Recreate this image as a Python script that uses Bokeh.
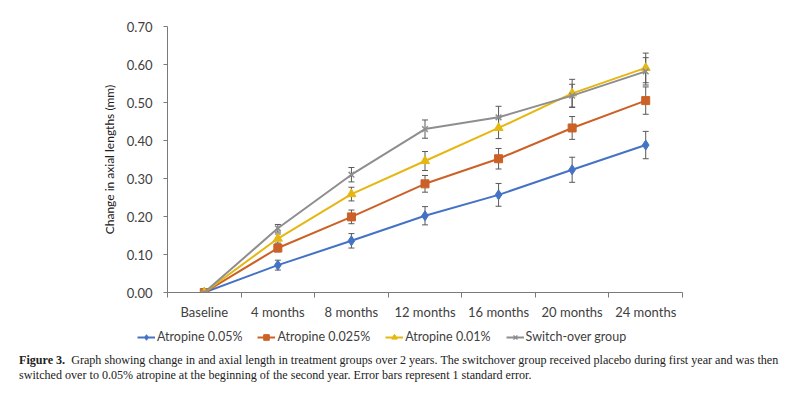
import numpy as np
from bokeh.plotting import figure
from bokeh.models import (Range1d, FixedTicker, NumeralTickFormatter, Whisker, TeeHead,
                          ColumnDataSource, Legend, LegendItem, Div)
from bokeh.layouts import column
from bokeh.embed import file_html
from bokeh.resources import INLINE

categories = ["Baseline", "4 months", "8 months", "12 months", "16 months", "20 months", "24 months"]
y_ticks = [0.0, 0.1, 0.2, 0.3, 0.4, 0.5, 0.6, 0.7]

series_names = ["Atropine 0.05%", "Atropine 0.025%", "Atropine 0.01%", "Switch-over group"]
atropine_005 = [0.0, 0.072, 0.136, 0.202, 0.257, 0.323, 0.388]
atropine_005_se = [0.003, 0.013, 0.019, 0.024, 0.030, 0.033, 0.036]
atropine_0025 = [0.0, 0.117, 0.199, 0.286, 0.352, 0.433, 0.505]
atropine_0025_se = [0.003, 0.010, 0.018, 0.022, 0.027, 0.030, 0.036]
atropine_001 = [0.0, 0.142, 0.259, 0.346, 0.433, 0.524, 0.591]
atropine_001_se = [0.003, 0.012, 0.018, 0.025, 0.028, 0.037, 0.039]
switchover = [0.0, 0.169, 0.310, 0.430, 0.461, 0.518, 0.582]
switchover_se = [0.003, 0.010, 0.019, 0.024, 0.029, 0.030, 0.036]

colors = ["#4472C4", "#CC6127", "#E6B710", "#8E8E8E"]
markers = ["diamond", "square", "triangle", "x"]
marker_sizes = [10, 8, 9, 8]

FONT = "Lato"
AXIS_COLOR = "#7A7A7A"
TEXT_COLOR = "#404040"

x = np.arange(len(categories))

p = figure(frame_width=515, frame_height=266, min_border_left=167, min_border_right=110,
           min_border_top=26, min_border_bottom=30,
           x_range=Range1d(-0.5, len(categories) - 0.5), y_range=Range1d(0, 0.70),
           output_backend="svg", toolbar_location=None, tools="")
p.outline_line_color = None
p.xgrid.visible = False
p.ygrid.visible = False

# x axis
p.xaxis.ticker = FixedTicker(ticks=list(x), minor_ticks=list(np.arange(len(categories) + 1) - 0.5))
p.xaxis.major_label_overrides = {int(i): c for i, c in zip(x, categories)}
p.xaxis.major_tick_line_color = None
p.xaxis.major_tick_out = 0
p.xaxis.major_tick_in = 0
p.xaxis.minor_tick_out = 5
p.xaxis.minor_tick_in = 0
p.xaxis.minor_tick_line_color = AXIS_COLOR
p.xaxis.axis_line_color = AXIS_COLOR
p.xaxis.major_label_standoff = 6
p.xaxis.major_label_text_font = FONT
p.xaxis.major_label_text_font_size = "13px"
p.xaxis.major_label_text_color = TEXT_COLOR

# y axis
p.yaxis.ticker = FixedTicker(ticks=y_ticks)
p.yaxis.formatter = NumeralTickFormatter(format="0.00")
p.yaxis.major_tick_out = 4
p.yaxis.major_tick_in = 0
p.yaxis.minor_tick_line_color = None
p.yaxis.major_tick_line_color = AXIS_COLOR
p.yaxis.axis_line_color = AXIS_COLOR
p.yaxis.major_label_standoff = 11
p.yaxis.major_label_text_font = FONT
p.yaxis.major_label_text_font_size = "13px"
p.yaxis.major_label_text_color = TEXT_COLOR
p.yaxis.axis_label = "Change in axial lengths (mm)"
p.yaxis.axis_label_text_font = FONT
p.yaxis.axis_label_text_font_size = "12px"
p.yaxis.axis_label_text_font_style = "normal"
p.yaxis.axis_label_text_color = "#202020"
p.yaxis.axis_label_standoff = 7

values = [atropine_005, atropine_0025, atropine_001, switchover]
errors = [atropine_005_se, atropine_0025_se, atropine_001_se, switchover_se]

# separate strip that carries the legend below the chart
lg = figure(frame_width=792, frame_height=26, min_border=0,
            x_range=Range1d(0, 1), y_range=Range1d(0, 1),
            x_axis_type=None, y_axis_type=None,
            output_backend="svg", toolbar_location=None, tools="")
lg.outline_line_color = None
lg.xgrid.visible = False
lg.ygrid.visible = False
offscreen = ColumnDataSource(dict(x=[-5.0], y=[-5.0]))

items = []
for name, vals, errs, col, mk, ms in zip(series_names, values, errors, colors, markers, marker_sizes):
    v = np.array(vals)
    e = np.array(errs)
    src = ColumnDataSource(dict(x=x, y=v, upper=v + e, lower=v - e))
    p.line("x", "y", source=src, line_color=col, line_width=2)
    w = Whisker(base="x", upper="upper", lower="lower", source=src, dimension="height",
                line_color="#595959", line_width=1,
                upper_head=TeeHead(size=6, line_color="#595959", line_width=1),
                lower_head=TeeHead(size=6, line_color="#595959", line_width=1))
    p.add_layout(w)
    if mk == "x":
        p.scatter("x", "y", source=src, marker=mk, size=ms, line_color=col, line_width=1.5)
    else:
        p.scatter("x", "y", source=src, marker=mk, size=ms, fill_color=col, line_color=col)
    ln = lg.line("x", "y", source=offscreen, line_color=col, line_width=2)
    if mk == "x":
        sc = lg.scatter("x", "y", source=offscreen, marker=mk, size=ms - 2, line_color=col, line_width=1.5)
    else:
        sc = lg.scatter("x", "y", source=offscreen, marker=mk, size=ms - 2, fill_color=col, line_color=col)
    items.append(LegendItem(label=name, renderers=[ln, sc]))

legend = Legend(items=items, orientation="horizontal", location=(137, 4),
                glyph_width=18, glyph_height=14, label_standoff=2, spacing=15,
                padding=0, margin=0, border_line_color=None, background_fill_alpha=0,
                label_text_font=FONT, label_text_font_size="12.5px", label_text_color=TEXT_COLOR)
lg.add_layout(legend)

caption = Div(text=("<div style='line-height:15px; margin:0'><b>Figure 3.</b>&nbsp; Graph showing change in and axial length "
                    "in treatment groups over 2 years. "
                    "The switchover group received placebo during first year and was then<br>"
                    "switched over to 0.05% atropine at the beginning of the second year. "
                    "Error bars represent 1 standard error.</div>"),
              width=792, height=42,
              styles={"font-family": "Liberation Serif", "font-size": "12.1px", "line-height": "15px",
                      "color": "#222222", "padding-left": "14px", "white-space": "nowrap"})

layout = column(p, lg, caption, spacing=0)
open("out.html", "w").write(file_html(layout, INLINE))
